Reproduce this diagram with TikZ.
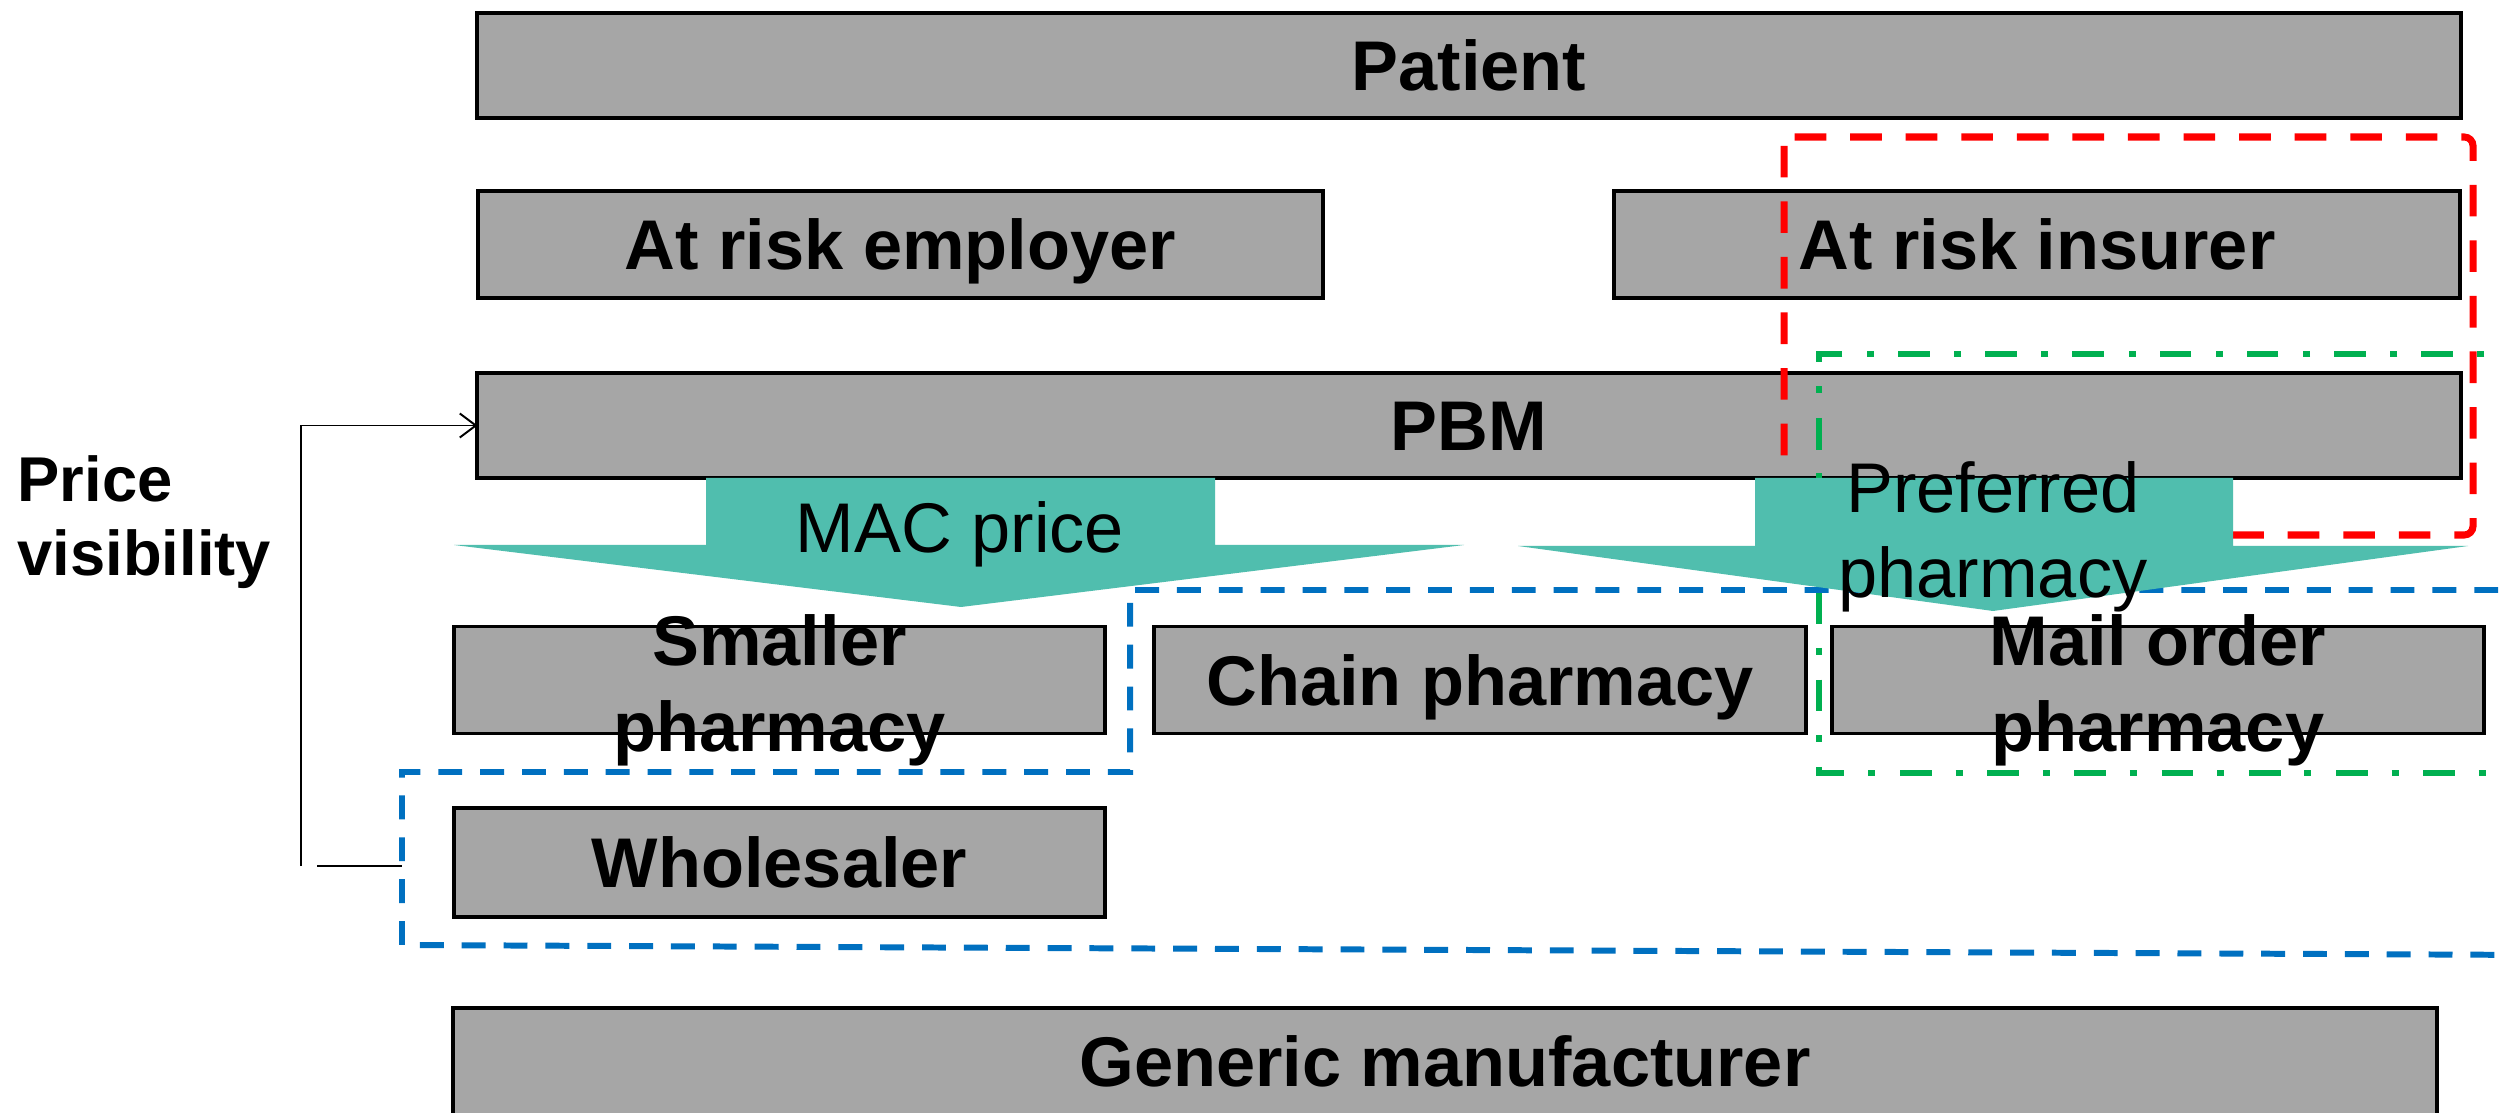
\documentclass[tikz,border=0pt]{standalone}
\usepackage{fontspec}
\setmainfont{Liberation Sans}
\usetikzlibrary{arrows.meta}
\definecolor{boxgray}{RGB}{166,166,166}
\definecolor{tealfill}{RGB}{80,190,174}
\definecolor{dblue}{RGB}{0,112,192}
\definecolor{dgreen}{RGB}{0,176,80}
\tikzset{
  gbox/.style={draw=black, line width=1.1pt, fill=boxgray, inner sep=0pt, outer sep=0pt},
  blabel/.style={font=\bfseries\fontsize{20}{23}\selectfont, align=center, inner sep=0pt, text height=14.3pt, text depth=0pt},
  blabeltwo/.style={font=\bfseries\fontsize{20}{24.5}\selectfont, align=center, inner sep=0pt, yshift=-0.1cm},
  alabel/.style={font=\fontsize{20}{22}\selectfont, align=center, inner sep=0pt, text height=14.3pt, text depth=0pt},
  alabeltwo/.style={font=\fontsize{20}{24}\selectfont, align=center, inner sep=0pt, yshift=-0.05cm},
  sidelabel/.style={font=\bfseries\fontsize{18}{21}\selectfont, align=left, inner sep=0pt, anchor=west},
  bluedash/.style={draw=dblue, line width=1.7pt, dash pattern=on 6.8pt off 5.1pt},
  reddash/.style={draw=red, line width=2pt, dash pattern=on 9pt off 6.8pt, rounded corners=2.5pt},
  greendash/.style={draw=dgreen, line width=1.9pt, dash pattern=on 9pt off 6.8pt on 2pt off 7pt},
  tealarrow/.style={fill=tealfill, draw=none},
  thinline/.style={draw=black, line width=0.55pt},
}
\begin{document}
\begin{tikzpicture}[x=0.01cm, y=-0.01cm]
\useasboundingbox (0,0) rectangle (2500,1113);
\clip (0,0) rectangle (2500,1113);
\fill[white] (0,0) rectangle (2500,1113);

% boxes
\node[gbox, minimum width=19.82cm, minimum height=1.05cm] (patient) at (1469,65.5) {};
\node[gbox, minimum width=8.45cm, minimum height=1.07cm] (employer) at (900.5,244.5) {};
\node[gbox, minimum width=8.46cm, minimum height=1.07cm] (insurer) at (2037,244.5) {};
\node[gbox, minimum width=19.82cm, minimum height=1.05cm] (pbm) at (1469,425.5) {};
\node[gbox, minimum width=6.51cm, minimum height=1.07cm] (smaller) at (779.5,680) {};
\node[gbox, minimum width=6.52cm, minimum height=1.07cm] (chain) at (1480,680) {};
\node[gbox, minimum width=6.52cm, minimum height=1.07cm] (mail) at (2158,680) {};
\node[gbox, minimum width=6.51cm, minimum height=1.09cm] (wholesaler) at (779.5,862.5) {};
\node[gbox, minimum width=19.82cm, minimum height=1.07cm] (generic) at (1445,1061.5) {};

% dashed groupings
\draw[reddash] (1784,137) rectangle (2473,535);
\draw[greendash] (2540,354) -- (1819,354) -- (1819,773) -- (2540,773);
\draw[bluedash] (2540,590) -- (1130,590) -- (1130,772) -- (402,772) -- (402,945) -- (2540,955);

% teal arrows
\fill[tealarrow] (706,478) -- (1215,478) -- (1215,545) -- (1464,545) -- (961,607) -- (454,545) -- (706,545) -- cycle;
\fill[tealarrow] (1755,478) -- (2233,478) -- (2233,546) -- (2468,546) -- (1993,611) -- (1518,546) -- (1755,546) -- cycle;

% price visibility connector
\coordinate (pvbot) at (301,866);
\coordinate (stubL) at (317,866);
\coordinate (stubR) at (402,866);
\draw[thinline, -{Straight Barb[length=0.16cm, width=0.24cm]}] (pvbot) -- (pvbot |- pbm.west) -- (pbm.west);
\draw[thinline] (stubL) -- (stubR);

% labels
\node[blabel] (patientT) at (patient.center) {Patient};
\node[blabel] (employerT) at (employer.center) {At risk employer};
\node[blabel] (insurerT) at (insurer.center) {At risk insurer};
\node[blabel] (pbmT) at (pbm.center) {PBM};
\node[blabeltwo] (smallerT) at (smaller.center) {Smaller\\pharmacy};
\node[blabel] (chainT) at (chain.center) {Chain pharmacy};
\node[blabeltwo] (mailT) at (mail.center) {Mail order\\pharmacy};
\node[blabel] (wholesalerT) at (wholesaler.center) {Wholesaler};
\node[blabel] (genericT) at (generic.center) {Generic manufacturer};
\node[alabel] (macT) at (960,527) {MAC price};
\node[alabeltwo] (prefT) at (1993,532) {Preferred\\pharmacy};
\node[sidelabel] (priceT) at (17,522) {Price\\visibility};
\end{tikzpicture}
\end{document}
